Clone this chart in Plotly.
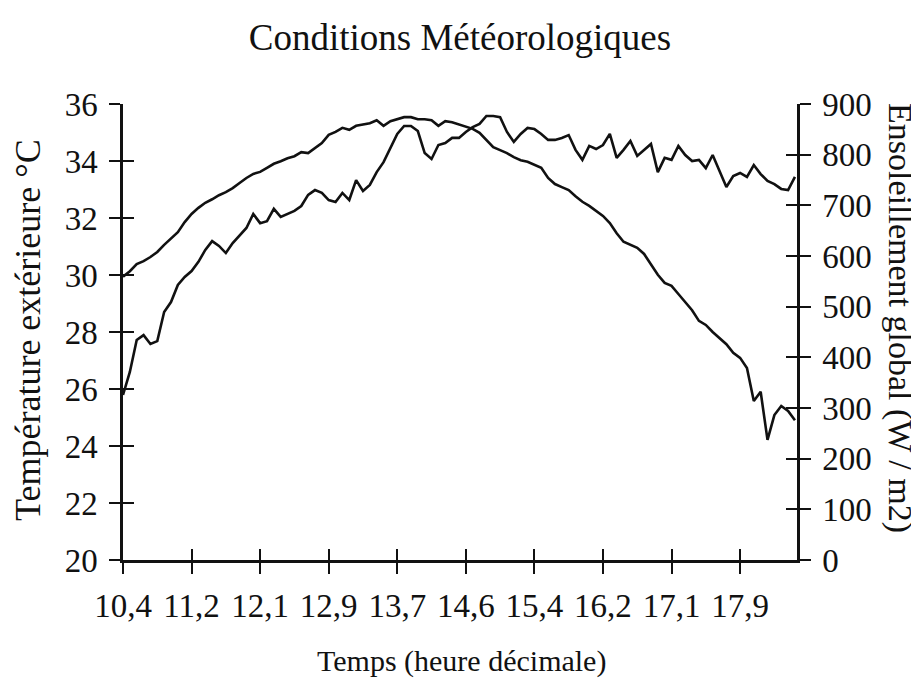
import plotly.graph_objects as go

# Sample index (one reading every 5 minutes), tick labels every 10 samples
tick_idx = [0, 10, 20, 30, 40, 50, 60, 70, 80, 90]
tick_labels = ["10,4", "11,2", "12,1", "12,9", "13,7", "14,6", "15,4", "16,2", "17,1", "17,9"]

# Température extérieure (°C) - left axis
temperature = [
    25.79, 26.60, 27.72, 27.89, 27.58, 27.68, 28.70, 29.05, 29.65, 29.93,
    30.14, 30.46, 30.88, 31.19, 31.02, 30.77, 31.12, 31.37, 31.65, 32.14,
    31.82, 31.89, 32.32, 32.04, 32.14, 32.25, 32.42, 32.81, 32.98, 32.88,
    32.63, 32.56, 32.88, 32.63, 33.33, 32.95, 33.16, 33.61, 33.96, 34.46,
    34.95, 35.23, 35.23, 35.05, 34.28, 34.07, 34.56, 34.63, 34.81, 34.81,
    35.02, 35.19, 35.30, 35.58, 35.58, 35.54, 35.02, 34.67, 34.95, 35.16,
    35.12, 34.95, 34.74, 34.74, 34.81, 34.91, 34.39, 34.04, 34.53, 34.42,
    34.56, 34.95, 34.11, 34.39, 34.70, 34.18, 34.39, 34.60, 33.61, 34.11,
    34.04, 34.53, 34.21, 34.00, 34.04, 33.75, 34.21, 33.68, 33.09, 33.47,
    33.58, 33.44, 33.86, 33.54, 33.30, 33.19, 33.02, 32.98, 33.44,
]

# Ensoleillement global (W/m2) - right axis
radiation = [
    559, 570, 584, 590, 598, 608, 622, 634, 647, 667,
    683, 695, 705, 712, 720, 726, 734, 744, 754, 762,
    766, 774, 782, 787, 793, 797, 805, 803, 813, 823,
    839, 845, 853, 849, 857, 859, 862, 868, 857, 866,
    870, 874, 874, 870, 870, 868, 857, 866, 864, 860,
    855, 851, 843, 829, 815, 809, 803, 795, 789, 786,
    780, 774, 754, 742, 736, 730, 718, 707, 699, 689,
    679, 665, 645, 628, 622, 616, 604, 584, 563, 547,
    541, 525, 509, 493, 472, 464, 450, 438, 426, 409,
    399, 379, 314, 332, 237, 286, 304, 294, 276,
]

idx = list(range(len(temperature)))

FONT = "Liberation Serif"
INK = "#111111"
CLEAR = "rgba(0,0,0,0)"
XR = [0, 98.3]

# page offset of 8px (default body margin) compensated in the figure geometry
W, H = 911, 678
L, T, R, B = 115, 96, 122, 126
PW, PH = W - L - R, H - T - B


def px(xp):   # page x -> paper x
    return (xp - 8 - L) / PW


def py(yp):   # page y -> paper y
    return (H - B - (yp - 8)) / PH


fig = go.Figure()
# transparent copies carry the overlay axes that draw the inner half of the crossing ticks
fig.add_trace(go.Scatter(x=idx, y=temperature, mode="lines", xaxis="x2", yaxis="y3",
                         line=dict(color=CLEAR, width=1), showlegend=False, hoverinfo="skip"))
fig.add_trace(go.Scatter(x=idx, y=radiation, mode="lines", xaxis="x", yaxis="y4",
                         line=dict(color=CLEAR, width=1), showlegend=False, hoverinfo="skip"))
fig.add_trace(go.Scatter(x=idx, y=temperature, mode="lines", xaxis="x", yaxis="y",
                         line=dict(color=INK, width=2.6), showlegend=False, hoverinfo="skip"))
fig.add_trace(go.Scatter(x=idx, y=radiation, mode="lines", xaxis="x", yaxis="y2",
                         line=dict(color=INK, width=2.6), showlegend=False, hoverinfo="skip"))

common = dict(showgrid=False, zeroline=False, tickcolor=INK, tickwidth=2, ticklen=11,
              tickfont=dict(family=FONT, size=33, color=INK))

fig.update_layout(
    width=W, height=H,
    paper_bgcolor="white", plot_bgcolor="white",
    margin=dict(l=L, r=R, t=T, b=B, autoexpand=False),
    title=dict(text="Conditions Météorologiques", x=0.5, xref="paper", y=1 - 29 / H,
               yanchor="middle", font=dict(family=FONT, size=37, color=INK)),
    xaxis=dict(range=XR, tickmode="array", tickvals=tick_idx, ticktext=tick_labels,
               ticks="outside", showline=True, linecolor=INK, linewidth=2.5,
               anchor="y", ticklabelstandoff=4, automargin=False, **common),
    xaxis2=dict(range=XR, overlaying="x", side="bottom", anchor="y", tickmode="array",
                tickvals=tick_idx, ticks="inside", showticklabels=False, showline=False,
                **common),
    yaxis=dict(range=[20, 36], tickmode="linear", tick0=20, dtick=2, ticks="outside",
               showline=True, linecolor=INK, linewidth=2.5, anchor="x",
               ticklabelstandoff=5, automargin=False, **common),
    yaxis2=dict(range=[0, 900], tickmode="linear", tick0=0, dtick=100, ticks="outside",
                side="right", overlaying="y", anchor="x", showline=True, linecolor=INK,
                linewidth=2.5, ticklabelstandoff=5, automargin=False, **common),
    yaxis3=dict(range=[20, 36], tickmode="linear", tick0=20, dtick=2, ticks="inside",
                side="left", overlaying="y", anchor="x2", showticklabels=False,
                showline=False, **common),
    yaxis4=dict(range=[0, 900], tickmode="linear", tick0=0, dtick=100, ticks="inside",
                side="right", overlaying="y", anchor="x", showticklabels=False,
                showline=False, **common),
    annotations=[
        dict(text="Temps (heure décimale)", xref="paper", yref="paper",
             x=px(461), y=py(661), xanchor="center", yanchor="middle",
             showarrow=False, font=dict(family=FONT, size=30, color=INK)),
        dict(text="Température extérieure °C", xref="paper", yref="paper",
             x=px(28), y=py(330), xanchor="center", yanchor="middle",
             textangle=-90, showarrow=False, font=dict(family=FONT, size=36, color=INK)),
        dict(text="Ensoleillement global (W / m2)", xref="paper", yref="paper",
             x=px(900), y=py(318), xanchor="center", yanchor="middle",
             textangle=90, showarrow=False, font=dict(family=FONT, size=34, color=INK)),
    ],
)

fig.write_html("out.html")
